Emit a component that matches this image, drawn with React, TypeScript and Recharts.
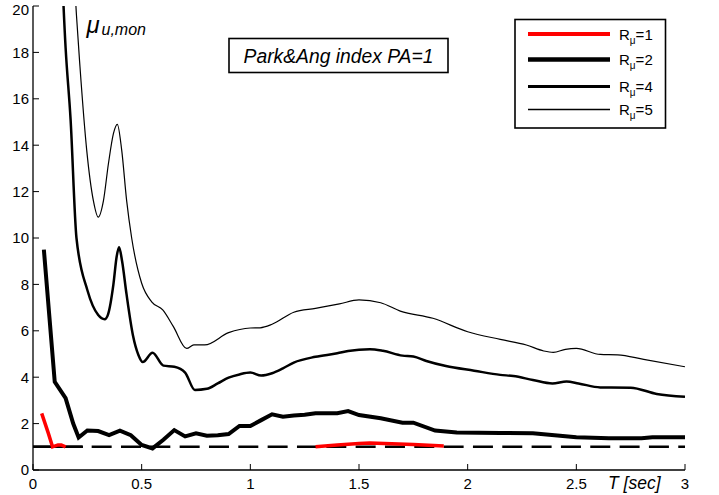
import React from 'react';
import { LineChart, Line, XAxis, YAxis, ReferenceLine, Customized } from 'recharts';

const FONT = '"Liberation Sans", Arial, Helvetica, sans-serif';

// Axis ticks
const X_TICKS = [0, 0.5, 1, 1.5, 2, 2.5, 3];
const Y_TICKS = [0, 2, 4, 6, 8, 10, 12, 14, 16, 18, 20];

// Period T [sec] and ductility values for each R_mu curve
const T_R1 = [0.04, 0.07, 0.09, 0.115, 0.13, 0.15, 0.7, 1.3, 1.4, 1.5, 1.55, 1.65, 1.75, 1.89];
const MU_R1 = [2.44, 1.6, 1.0, 1.08, 1.08, 1.0, null, 1.0, 1.08, 1.14, 1.16, 1.13, 1.1, 1.03];

const T_R2 = [0.05, 0.1, 0.15, 0.185, 0.21, 0.25, 0.3, 0.35, 0.4, 0.45, 0.5, 0.55, 0.6, 0.65, 0.7, 0.75, 0.8, 0.85, 0.9, 0.95, 1.0, 1.05, 1.1, 1.15, 1.2, 1.25, 1.3, 1.4, 1.45, 1.5, 1.6, 1.7, 1.75, 1.85, 1.95, 2.15, 2.3, 2.4, 2.5, 2.65, 2.8, 2.85, 3.0];
const MU_R2 = [9.5, 3.8, 3.1, 2.0, 1.4, 1.7, 1.68, 1.5, 1.7, 1.5, 1.08, 0.93, 1.3, 1.72, 1.45, 1.58, 1.48, 1.5, 1.55, 1.9, 1.9, 2.15, 2.4, 2.3, 2.35, 2.38, 2.45, 2.45, 2.54, 2.37, 2.23, 2.04, 2.04, 1.7, 1.62, 1.6, 1.58, 1.5, 1.41, 1.37, 1.37, 1.41, 1.41];

const T_R4 = [0.1, 0.15, 0.173, 0.2, 0.25, 0.3, 0.33, 0.345, 0.37, 0.385, 0.396, 0.41, 0.43, 0.46, 0.485, 0.505, 0.55, 0.6, 0.65, 0.7, 0.745, 0.8, 0.85, 0.9, 0.95, 1.0, 1.05, 1.1, 1.15, 1.2, 1.3, 1.4, 1.45, 1.55, 1.61, 1.7, 1.75, 1.81, 1.9, 2.03, 2.15, 2.21, 2.3, 2.39, 2.455, 2.51, 2.61, 2.75, 2.87, 3.0];
const MU_R4 = [30, 18.2, 15.1, 10.0, 7.76, 6.68, 6.5, 6.7, 8.0, 9.2, 9.6, 9.0, 7.6, 5.8, 4.96, 4.65, 5.05, 4.5, 4.45, 4.2, 3.45, 3.5, 3.73, 3.98, 4.12, 4.2, 4.07, 4.17, 4.38, 4.63, 4.88, 5.03, 5.13, 5.21, 5.14, 4.93, 4.89, 4.7, 4.48, 4.28, 4.1, 4.05, 3.88, 3.73, 3.81, 3.73, 3.56, 3.55, 3.28, 3.16];

const T_R5 = [0.15, 0.2, 0.216, 0.247, 0.278, 0.3, 0.324, 0.347, 0.37, 0.388, 0.408, 0.431, 0.454, 0.5, 0.546, 0.597, 0.646, 0.707, 0.74, 0.79, 0.9, 1.0, 1.045, 1.1, 1.2, 1.3, 1.41, 1.5, 1.6, 1.69, 1.84, 2.0, 2.15, 2.27, 2.35, 2.394, 2.45, 2.5, 2.61, 2.69, 2.81, 3.0];
const MU_R5 = [30, 19.6, 17.4, 13.8, 11.6, 10.9, 11.6, 13.2, 14.5, 14.9, 13.8, 11.6, 10.0, 8.05, 7.25, 6.9, 6.18, 5.24, 5.39, 5.39, 5.92, 6.12, 6.13, 6.28, 6.8, 6.97, 7.16, 7.33, 7.21, 6.85, 6.54, 5.96, 5.63, 5.39, 5.13, 5.07, 5.2, 5.24, 4.98, 4.96, 4.77, 4.45];

// Limit line mu = 1
const LIMIT_MU = 1;
const LIMIT_SOLID_T = [0, 0.23];

const SERIES = [
  { key: 'r1', label: '1', t: T_R1, mu: MU_R1, color: '#ff0000', width: 3.5, legendWidth: 4, curve: 'linear' },
  { key: 'r2', label: '2', t: T_R2, mu: MU_R2, color: '#000000', width: 4, legendWidth: 4.3, curve: 'linear' },
  { key: 'r4', label: '4', t: T_R4, mu: MU_R4, color: '#000000', width: 2.5, legendWidth: 3, curve: 'monotoneX' },
  { key: 'r5', label: '5', t: T_R5, mu: MU_R5, color: '#000000', width: 1.2, legendWidth: 1.3, curve: 'monotoneX' },
];

const buildData = (t: number[], mu: (number | null)[]) => t.map((x, i) => ({ T: x, mu: mu[i] }));

const YTick = (props: any) => {
  const { x, y, payload } = props;
  return (
    <text x={x} y={Math.max(y, 10)} dy="0.355em" textAnchor="end" fontSize={15} fontFamily={FONT} fill="#000">
      {payload.value}
    </text>
  );
};

const Overlay = () => {
  const rows = [34, 59.5, 86.5, 109.5];
  return (
    <g fontFamily={FONT}>
      {/* y-axis label */}
      <text x={86.5} y={33} fontSize={24} fontStyle="italic" fill="#000">μ</text>
      <text x={101.5} y={35} fontSize={16} fontStyle="italic" fill="#000">u,mon</text>
      {/* title box */}
      <rect x={229} y={38.5} width={219} height={34} fill="#fff" stroke="#000" strokeWidth={1.6} />
      <text x={338.5} y={62.5} fontSize={19.3} fontStyle="italic" textAnchor="middle" fill="#000">Park&amp;Ang index PA=1</text>
      {/* x-axis label */}
      <text x={608} y={489} fontSize={17.5} fontStyle="italic" fill="#000">T [sec]</text>
      {/* legend */}
      <rect x={515} y={19.5} width={150.5} height={108.5} fill="#fff" stroke="#000" strokeWidth={1.6} />
      {SERIES.map((s, i) => (
        <g key={s.key}>
          <line x1={528} x2={610} y1={rows[i]} y2={rows[i]} stroke={s.color} strokeWidth={s.legendWidth} />
          <text x={619} y={rows[i] + 5.5} fontSize={15} fill="#000">
            R<tspan fontSize={10} dy={4}>μ</tspan><tspan dy={-4}>={s.label}</tspan>
          </text>
        </g>
      ))}
    </g>
  );
};

export default function App() {
  return (
    <div style={{ position: 'absolute', left: 0, top: 0, width: 719, height: 495, background: '#fff' }}>
      <LineChart width={719} height={495} margin={{ top: 6, right: 34, bottom: 0, left: 0 }}>
        <XAxis
          xAxisId={0}
          dataKey="T"
          type="number"
          domain={[0, 3]}
          ticks={X_TICKS}
          allowDataOverflow
          height={25}
          tickSize={-6}
          tickMargin={14}
          axisLine={{ stroke: '#000', strokeWidth: 1.3 }}
          tickLine={{ stroke: '#000' }}
          tick={{ fontSize: 15, fontFamily: FONT, fill: '#000' }}
        />
        <XAxis
          xAxisId="top"
          orientation="top"
          dataKey="T"
          type="number"
          domain={[0, 3]}
          ticks={X_TICKS}
          allowDataOverflow
          height={0}
          tickSize={-6}
          tick={false}
          axisLine={{ stroke: '#000', strokeWidth: 1.3 }}
          tickLine={{ stroke: '#000' }}
        />
        <YAxis
          yAxisId={0}
          type="number"
          domain={[0, 20]}
          ticks={Y_TICKS}
          allowDataOverflow
          width={33}
          tickSize={-6}
          tickMargin={10}
          axisLine={{ stroke: '#000', strokeWidth: 1.3 }}
          tickLine={{ stroke: '#000' }}
          tick={<YTick />}
        />
        <YAxis
          yAxisId="right"
          orientation="right"
          type="number"
          domain={[0, 20]}
          ticks={Y_TICKS}
          allowDataOverflow
          width={0}
          tickSize={-6}
          tick={false}
          axisLine={{ stroke: '#000', strokeWidth: 1.3 }}
          tickLine={{ stroke: '#000' }}
        />
        <ReferenceLine y={LIMIT_MU} stroke="#000" strokeWidth={2.5} strokeDasharray="20 9.33" ifOverflow="hidden" />
        <ReferenceLine
          segment={[{ x: LIMIT_SOLID_T[0], y: LIMIT_MU }, { x: LIMIT_SOLID_T[1], y: LIMIT_MU }]}
          stroke="#000"
          strokeWidth={2.5}
        />
        {SERIES.slice().reverse().map((s) => (
          <Line
            key={s.key}
            data={buildData(s.t, s.mu)}
            dataKey="mu"
            name={s.key}
            type={s.curve as any}
            stroke={s.color}
            strokeWidth={s.width}
            dot={false}
            activeDot={false}
            isAnimationActive={false}
            connectNulls={false}
          />
        ))}
        <Customized component={Overlay} />
      </LineChart>
    </div>
  );
}
